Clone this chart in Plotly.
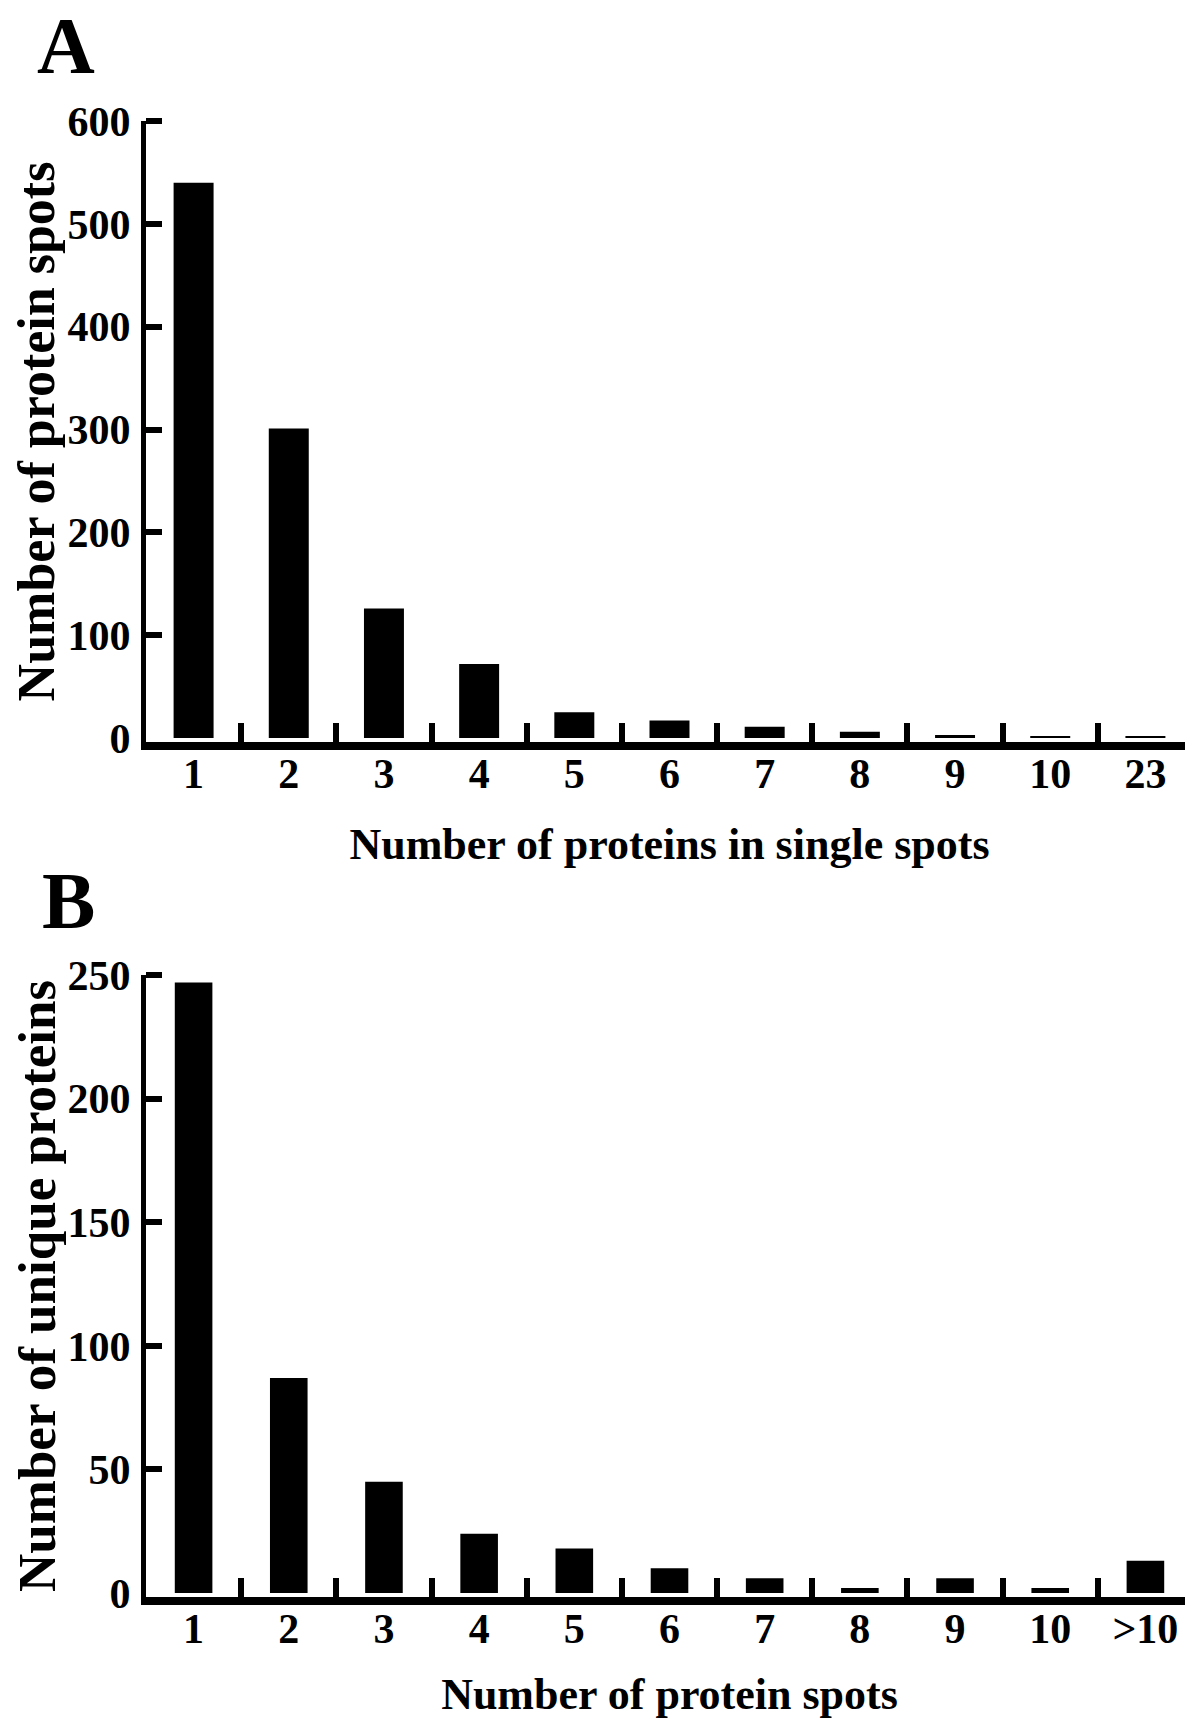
import plotly.graph_objects as go
from plotly.subplots import make_subplots

# Panel A data
cats_a = ["1", "2", "3", "4", "5", "6", "7", "8", "9", "10", "23"]
vals_a = [540, 301, 126, 72, 25, 17, 11, 6, 3, 1, 1]
yticks_a = [0, 100, 200, 300, 400, 500, 600]

# Panel B data
cats_b = ["1", "2", "3", "4", "5", "6", "7", "8", "9", "10", ">10"]
vals_b = [247, 87, 45, 24, 18, 10, 6, 2, 6, 2, 13]
yticks_b = [0, 50, 100, 150, 200, 250]

PAGE_W, PAGE_H = 1193, 1719
OFF = 8  # default page body margin
W, H = PAGE_W - OFF, PAGE_H - OFF
ML = 146 - OFF
FONT = "Liberation Serif"

fig = make_subplots(rows=2, cols=1)
fig.add_trace(go.Bar(x=cats_a, y=vals_a, marker=dict(color="black", line=dict(width=0)),
                     width=0.42), row=1, col=1)
fig.add_trace(go.Bar(x=cats_b, y=vals_b, marker=dict(color="black", line=dict(width=0)),
                     width=0.395), row=2, col=1)

def py2paper(py):
    return 1 - (py - OFF) / H

def px2paper(px):
    return (px - OFF - ML) / (W - ML)

xcommon = dict(type="category", showgrid=False, showline=True, linecolor="black",
               linewidth=8, ticks="inside", tickson="boundaries", ticklen=19,
               tickwidth=6, tickcolor="black", domain=[0, 1],
               tickfont=dict(family=FONT, size=42, color="black"),
               range=[-0.5, 10.5], zeroline=False, ticklabelstandoff=-12)
ycommon = dict(showgrid=False, showline=True, linecolor="black", linewidth=5,
               ticks="", tickfont=dict(family=FONT, size=42, color="black"),
               zeroline=False, ticklabelstandoff=2)

def yminor(vals):
    return dict(tickmode="array", tickvals=[v for v in vals if v != 0], ticks="inside",
                ticklen=16, tickwidth=6, tickcolor="black", showgrid=False)

fig.update_layout(
    width=W, height=H,
    margin=dict(l=ML, r=0, t=0, b=0, autoexpand=False),
    paper_bgcolor="white", plot_bgcolor="white",
    showlegend=False,
    font=dict(family=FONT, color="black"),
    xaxis=dict(**xcommon,
               title=dict(text="<b>Number of proteins in single spots</b>",
                          font=dict(family=FONT, size=44, color="black"), standoff=35)),
    yaxis=dict(**ycommon, domain=[py2paper(742), py2paper(121)],
               range=[-3.89, 600], tickvals=yticks_a,
               ticktext=[f"<b>{v}</b>" for v in yticks_a],
               minor=yminor(yticks_a),
               title=dict(text="<b>Number of protein spots</b>",
                          font=dict(family=FONT, size=52, color="black"), standoff=10)),
    xaxis2=dict(**xcommon,
                title=dict(text="<b>Number of protein spots</b>",
                           font=dict(family=FONT, size=44, color="black"), standoff=30)),
    yaxis2=dict(**ycommon, domain=[py2paper(1597), py2paper(975)],
                range=[-1.62, 250], tickvals=yticks_b,
                ticktext=[f"<b>{v}</b>" for v in yticks_b],
                minor=yminor(yticks_b),
                title=dict(text="<b>Number of unique proteins</b>",
                           font=dict(family=FONT, size=53, color="black"), standoff=8)),
)

fig.update_xaxes(ticktext=[f"<b>{c}</b>" for c in cats_a], tickvals=cats_a, row=1, col=1)
fig.update_xaxes(ticktext=[f"<b>{c.replace('>', '&gt;')}</b>" for c in cats_b], tickvals=cats_b, row=2, col=1)

fig.add_annotation(text="<b>A</b>", x=px2paper(66), y=py2paper(46), xref="paper", yref="paper",
                   xanchor="center", yanchor="middle", showarrow=False,
                   font=dict(family=FONT, size=80, color="black"))
fig.add_annotation(text="<b>B</b>", x=px2paper(68), y=py2paper(901), xref="paper", yref="paper",
                   xanchor="center", yanchor="middle", showarrow=False,
                   font=dict(family=FONT, size=80, color="black"))

fig.write_html("out.html")
